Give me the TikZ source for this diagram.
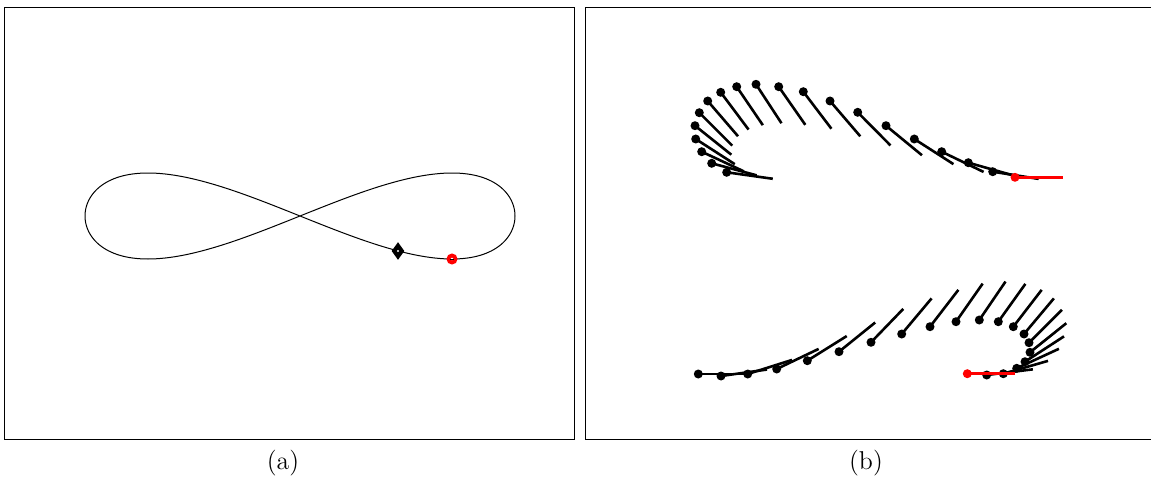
\documentclass[tikz,border=0pt]{standalone}
\usepackage{tikz}
\usetikzlibrary{shapes.geometric}
\tikzset{
  panel/.style={line width=0.5pt},
  traj/.style={line width=0.5pt},
  pole/.style={line width=1.3pt},
  ball/.style={circle, fill=#1, inner sep=0pt, minimum size=4.5pt},
  subcap/.style={font=\fontsize{12.9}{15}\selectfont},
  goalmark/.style={diamond, draw=black, fill=black, line width=1pt, inner sep=0pt, minimum width=5.5pt, minimum height=7.5pt},
  startmark/.style={circle, draw=red, line width=1.9pt, fill=white, inner sep=0pt, minimum size=3.5pt},
}

\begin{document}
\begin{tikzpicture}[x=0.5pt, y=-0.5pt]
    \useasboundingbox (0,0) rectangle (1151,481);
    \draw[panel] (4,8) rectangle (574,439);
    \draw[panel] (1151,8) -| (585,439) -- (1151,439);
    \node[subcap] (capa) at (283,463) {(a)};
    \node[subcap] (capb) at (866,463) {(b)};

    \draw[traj] plot[domain=0:360, samples=241, smooth] ({300+215*sin(\x)}, {216+43*sin(2*\x)});
    \node[goalmark] (goal) at (398,251) {};
    \fill[white] (goal.center) circle[radius=0.6pt];
    \node[startmark] (start) at (452,259) {};
    \draw[traj] ([xshift=-0.8pt]start.center) -- ([xshift=0.8pt]start.center);

    \foreach \px/\py/\ang in {726.7/172.3/8, 711.7/163.3/15, 701.7/151.7/25, 695.7/139/32.8,
      695/125.7/38.6, 699.3/112.7/45, 707.7/101/49.3, 720.7/92.3/53.2, 736.7/86.7/55.8,
      756/84.3/56.8, 778.7/86.7/55.1, 803.3/91.7/52.8, 830/101/49.4, 857.7/112.3/45.3,
      886/125.7/39.4, 914.3/139/32.7, 941.7/151.7/25.8, 968.3/162.7/15.8, 992.7/171.7/8.9}{
      \draw[pole] (\px,\py) -- ++(\ang:46.5);
      \node[ball=black] at (\px,\py) {};
    }
    \draw[pole, red] (1015,177.3) -- ++(0:48);
    \node[ball=red] (topend) at (1015,177.3) {};

    \foreach \px/\py/\ang in {698.3/374/0, 721/376/-8, 747.7/374/-17.6, 776.7/369/-25.6,
      807.3/360.7/-32, 839/351.7/-38.9, 871/342.3/-46, 901.7/334/-50, 930/326.7/-52.4,
      956/321.7/-55, 979.3/320/-55.7, 998.3/321.7/-54.4, 1013.3/326.7/-52.4, 1024/334/-50,
      1029/342.7/-45, 1030/352.3/-38.7, 1025/361.7/-33, 1016.7/368.3/-24.8,
      1003.3/373.7/-16, 986.7/375/-7}{
      \draw[pole] (\px,\py) -- ++(\ang:46.5);
      \node[ball=black] at (\px,\py) {};
    }
    \draw[pole, red] (967.3,373.7) -- ++(0:47.7);
    \node[ball=red] (botend) at (967.3,373.7) {};
  \end{tikzpicture}
\end{document}
